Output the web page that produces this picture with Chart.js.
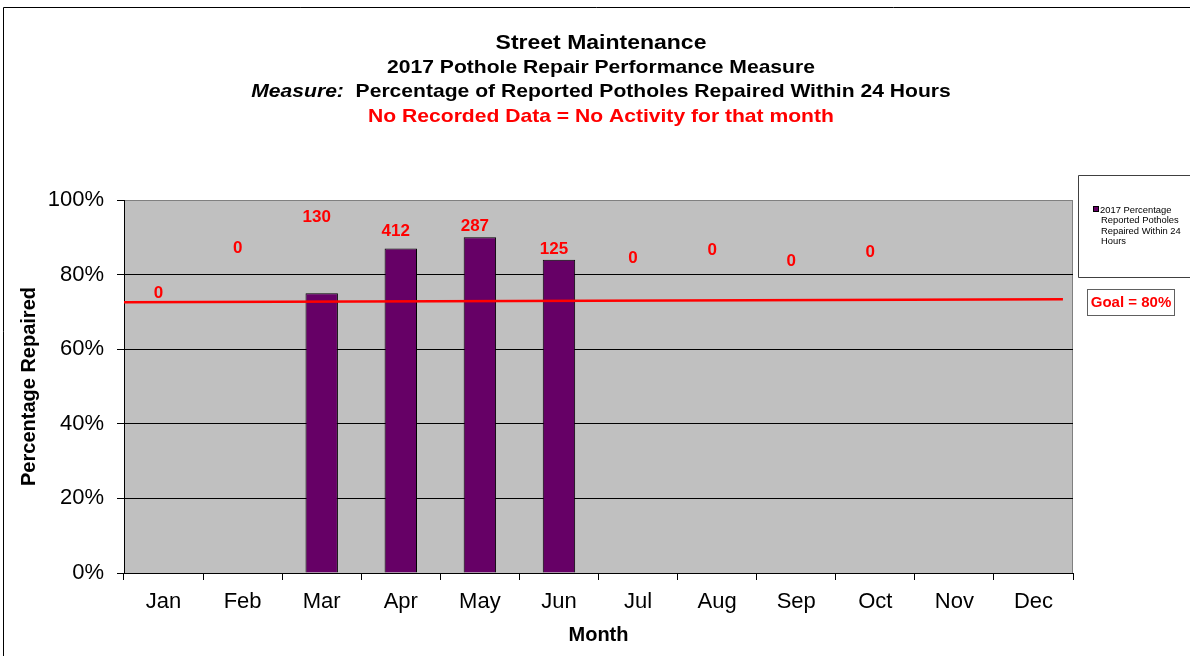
<!DOCTYPE html>
<html>
<head>
<meta charset="utf-8">
<script src="https://cdn.jsdelivr.net/npm/chart.js"></script>
<style>
  html, body { margin: 0; padding: 0; background: #fff; }
  #wrap { position: relative; width: 1190px; height: 656px; }
</style>
</head>
<body>
<div id="wrap"><canvas id="graphique"></canvas></div>
<script>
// Données du graphique
const months = ['Jan', 'Feb', 'Mar', 'Apr', 'May', 'Jun', 'Jul', 'Aug', 'Sep', 'Oct', 'Nov', 'Dec'];
const pctRepaired = [null, null, 75, 87, 90, 84, null, null, null, null, null, null];
const potholeCounts = ['0', '0', '130', '412', '287', '125', '0', '0', '0', '0', null, null];
const countLabelPos = [75, 87, 95.4, 91.7, 93, 86.9, 84.5, 86.6, 83.6, 86, null, null];
const goalLine = [72.6, 73.4];
const yTicks = [0, 20, 40, 60, 80, 100];

const titleLines = [
    'Street Maintenance',
    '2017 Pothole Repair Performance Measure',
    'Percentage of Reported Potholes Repaired Within 24 Hours',
    'No Recorded Data = No Activity for that month'
];
const legendLines = ['2017 Percentage', 'Reported Potholes', 'Repaired Within 24', 'Hours'];
const goalText = 'Goal = 80%';

const BAR_COLOR = '#660066';
const FONT = 'Arial, "Liberation Sans", sans-serif';

// texte étiré horizontalement (le modèle est un peu élargi)
function stretchText(ctx, text, x, y, sx) {
    ctx.save();
    ctx.translate(x, y);
    ctx.scale(sx, 1);
    ctx.fillText(text, 0, 0);
    ctx.restore();
}

// Décor : fond de la zone de tracé, titres, légende, cadre
const decorPlugin = {
    id: 'decor',
    beforeDraw(chart) {
        const { ctx, chartArea: a } = chart;
        ctx.save();
        ctx.fillStyle = '#fff';
        ctx.fillRect(0, 0, chart.width, chart.height);
        ctx.fillStyle = '#C0C0C0';
        ctx.fillRect(a.left, a.top, a.right - a.left, a.bottom - a.top);
        ctx.strokeStyle = '#808080';
        ctx.lineWidth = 1;
        ctx.strokeRect(a.left + 0.5, a.top + 0.5, a.right - a.left - 1, a.bottom - a.top);
        // cadre de la page
        ctx.strokeStyle = '#000';
        ctx.beginPath();
        ctx.moveTo(3.5, chart.height);
        ctx.lineTo(3.5, 7.5);
        ctx.lineTo(chart.width, 7.5);
        ctx.stroke();
        ctx.restore();
    },
    afterDraw(chart) {
        const ctx = chart.ctx;
        const cx = 601;
        const sx = 1.11;
        ctx.save();
        ctx.textBaseline = 'middle';
        ctx.textAlign = 'center';
        ctx.fillStyle = '#000';
        ctx.font = 'bold 20px ' + FONT;
        stretchText(ctx, titleLines[0], cx, 43, 1.15);
        ctx.font = 'bold 19px ' + FONT;
        stretchText(ctx, titleLines[1], cx, 68, sx);
        // ligne 3 : "Measure:" en italique
        ctx.textAlign = 'left';
        ctx.font = 'italic bold 19px ' + FONT;
        const lead = 'Measure:  ';
        const w1 = ctx.measureText(lead).width * sx;
        ctx.font = 'bold 19px ' + FONT;
        const w2 = ctx.measureText(titleLines[2]).width * sx;
        const x = cx - (w1 + w2) / 2;
        ctx.font = 'italic bold 19px ' + FONT;
        stretchText(ctx, lead, x, 92, sx);
        ctx.font = 'bold 19px ' + FONT;
        stretchText(ctx, titleLines[2], x + w1, 92, sx);
        ctx.textAlign = 'center';
        ctx.fillStyle = '#FF0000';
        stretchText(ctx, titleLines[3], cx, 117, sx);

        // légende
        ctx.fillStyle = '#fff';
        ctx.fillRect(1078, 175, 120, 102);
        ctx.strokeStyle = '#404040';
        ctx.lineWidth = 1;
        ctx.beginPath();
        ctx.moveTo(1190, 175.5);
        ctx.lineTo(1078.5, 175.5);
        ctx.lineTo(1078.5, 277.5);
        ctx.lineTo(1190, 277.5);
        ctx.stroke();
        ctx.fillStyle = BAR_COLOR;
        ctx.fillRect(1094, 207, 5, 5);
        ctx.strokeStyle = '#000';
        ctx.strokeRect(1093.5, 206.5, 5, 5);
        ctx.fillStyle = '#000';
        ctx.textAlign = 'left';
        ctx.font = '9.4px ' + FONT;
        legendLines.forEach((l, i) => {
            ctx.fillText(l, i === 0 ? 1100 : 1101, 210 + i * 10.6);
        });

        // encadré objectif
        ctx.fillStyle = '#fff';
        ctx.fillRect(1087, 289, 87, 26);
        ctx.strokeStyle = '#606060';
        ctx.strokeRect(1087.5, 289.5, 87, 26);
        ctx.fillStyle = '#FF0000';
        ctx.textAlign = 'center';
        ctx.font = 'bold 15px ' + FONT;
        ctx.fillText(goalText, 1131, 303);
        ctx.restore();
    }
};

// Étiquettes rouges (nombre de nids-de-poule signalés)
const countLabels = {
    id: 'countLabels',
    afterDatasetsDraw(chart) {
        const { ctx, scales } = chart;
        ctx.save();
        ctx.fillStyle = '#FF0000';
        ctx.font = 'bold 17px ' + FONT;
        ctx.textAlign = 'center';
        ctx.textBaseline = 'middle';
        months.forEach((m, i) => {
            if (potholeCounts[i] === null) return;
            const x = scales.x.getPixelForValue(i) - 5;
            const y = scales.y.getPixelForValue(countLabelPos[i]);
            ctx.fillText(potholeCounts[i], x, y);
        });
        ctx.restore();
    }
};

const ctx = document.getElementById('graphique').getContext('2d');
new Chart(ctx, {
    type: 'bar',
    data: {
        labels: months,
        datasets: [{
            label: '2017 Percentage Reported Potholes Repaired Within 24 Hours',
            data: pctRepaired,
            backgroundColor: BAR_COLOR,
            borderColor: '#000',
            borderWidth: 1,
            grouped: false,
            categoryPercentage: 1,
            barPercentage: 0.41,
            order: 2
        }, {
            type: 'line',
            label: 'Goal',
            xAxisID: 'x2',
            data: [{ x: 0, y: goalLine[0] }, { x: 1, y: goalLine[1] }],
            borderColor: '#FF0000',
            borderWidth: 2.5,
            pointRadius: 0,
            order: 1
        }]
    },
    options: {
        responsive: true,
        maintainAspectRatio: false,
        animation: false,
        layout: { padding: { top: 200, right: 117, left: 13, bottom: 0 } },
        plugins: {
            legend: { display: false },
            tooltip: { enabled: false }
        },
        scales: {
            x: {
                type: 'category',
                grid: { drawOnChartArea: false, offset: true, tickLength: 7, color: '#000' },
                border: { display: true, color: '#000', width: 1 },
                ticks: { color: '#000', font: { family: FONT, size: 22 }, padding: 9, maxRotation: 0 },
                title: { display: true, text: 'Month', color: '#000', font: { family: FONT, size: 20, weight: 'bold' }, padding: { top: 4, bottom: 9 } },
                afterFit(scale) { scale.height = 83; }
            },
            x2: {
                type: 'linear',
                display: false,
                offset: false,
                grid: { offset: false },
                min: 0,
                max: 1.0107
            },
            y: {
                min: 0,
                max: 100,
                afterBuildTicks(scale) { scale.ticks = yTicks.map(v => ({ value: v })); },
                grid: {
                    color: c => (c.tick && c.tick.value === 100) ? '#808080' : '#000',
                    tickLength: 7,
                    tickColor: '#000'
                },
                border: { display: true, color: '#000', width: 1 },
                ticks: { color: '#000', font: { family: FONT, size: 22 }, padding: 13, callback: v => v + '%' },
                title: { display: true, text: 'Percentage Repaired', color: '#000', font: { family: FONT, size: 20, weight: 'bold' }, padding: { top: 4, bottom: 4 } },
                afterFit(scale) { scale.width = 111; }
            }
        }
    },
    plugins: [decorPlugin, countLabels]
});
</script>
</body>
</html>
